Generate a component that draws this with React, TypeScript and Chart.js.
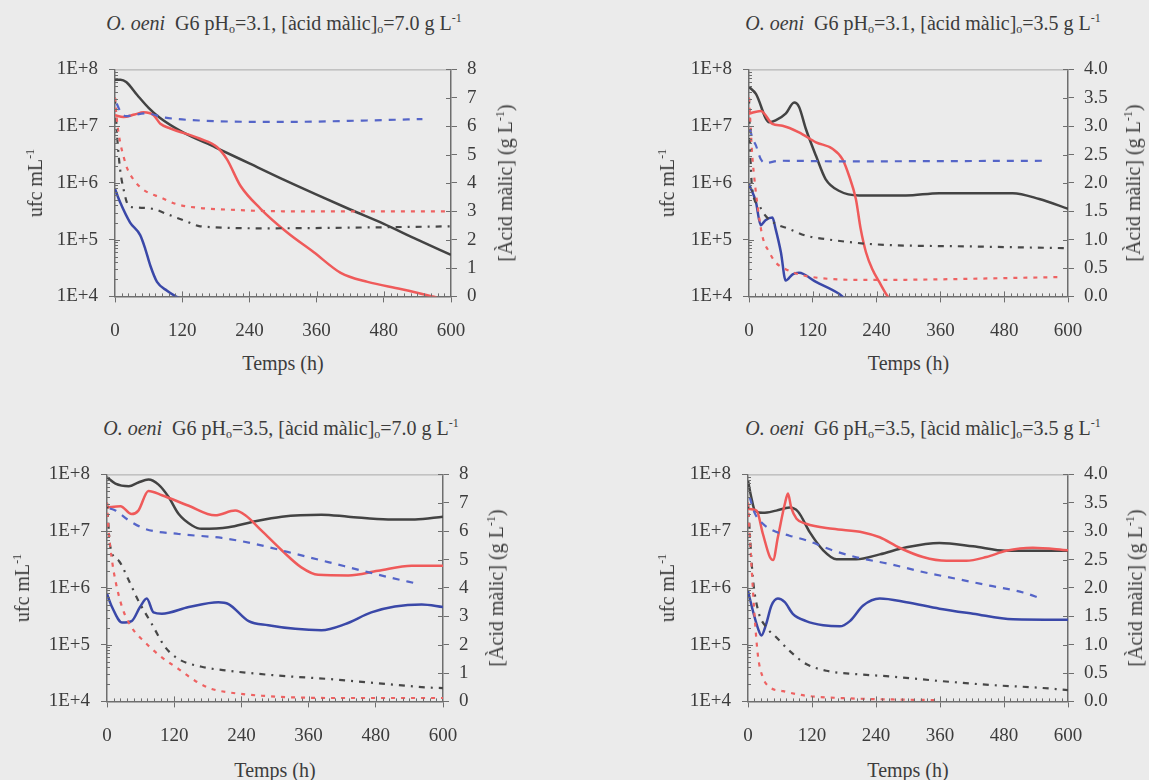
import React, { useEffect, useRef } from 'react';
import { Chart, registerables } from 'chart.js';

Chart.register(...registerables);

const FONT = '"Liberation Serif", "Times New Roman", serif';
const AXIS_COLOR = '#6e6e6e';
const TEXT_COLOR = '#3c3c3c';
const C_BLACK = '#434343';
const C_RED = '#ef5a5a';
const C_BLUE = '#3a48a8';
const C_BLUE_D = '#5565c8';
const C_RED_D = '#ee6262';
const C_BLACK_D = '#474747';

// shared axis ticks
const timeTicks = [0, 120, 240, 360, 480, 600];
const logTicks = [1e4, 1e5, 1e6, 1e7, 1e8];

// ---------- Panel 1: pH 3.1, malic 7.0 ----------
const p1BlackT = [0, 10, 20, 40, 60, 80, 120, 180, 240, 300, 360, 420, 480, 540, 600];
const p1BlackV = [6.6e7, 6.6e7, 6.0e7, 3.5e7, 2.1e7, 1.4e7, 7.9e6, 4.2e6, 2.2e6, 1.15e6, 6.2e5, 3.4e5, 1.9e5, 1.0e5, 5.4e4];
const p1RedT = [0, 15, 35, 51, 69, 81, 99, 152, 182, 200, 224, 260, 307, 355, 403, 451, 510, 558, 575];
const p1RedV = [1.55e7, 1.45e7, 1.6e7, 1.75e7, 1.55e7, 1.1e7, 9.1e6, 6.0e6, 4.3e6, 2.6e6, 8.9e5, 3.5e5, 1.35e5, 6.0e4, 2.6e4, 1.8e4, 1.35e4, 1.05e4, 9.5e3];
const p1BlueT = [0, 9, 27, 45, 54, 63, 75, 93, 107, 115];
const p1BlueV = [7.8e5, 4.6e5, 2.0e5, 1.2e5, 6.9e4, 3.5e4, 1.8e4, 1.26e4, 1.02e4, 9.3e3];
const p1BlueDT = [3, 10, 20, 35, 55, 90, 150, 300, 450, 549];
const p1BlueDV = [6.8, 6.5, 6.35, 6.4, 6.45, 6.3, 6.2, 6.15, 6.2, 6.25];
const p1RedDT = [0, 4, 9, 15, 22, 32, 45, 60, 80, 110, 150, 200, 300, 450, 600];
const p1RedDV = [7.0, 6.1, 5.45, 4.95, 4.5, 4.15, 3.85, 3.65, 3.5, 3.25, 3.12, 3.06, 3.0, 3.0, 3.0];
const p1BlackDT = [0, 4, 9, 15, 24, 33, 69, 93, 128, 152, 272, 450, 600];
const p1BlackDV = [7.0, 5.6, 4.5, 3.8, 3.2, 3.14, 3.08, 2.9, 2.64, 2.47, 2.4, 2.43, 2.47];

// ---------- Panel 2: pH 3.1, malic 3.5 ----------
const p2BlackT = [0, 13, 38, 50, 69, 85, 94, 107, 126, 144, 170, 207, 295, 358, 496, 546, 600];
const p2BlackV = [4.9e7, 3.7e7, 1.17e7, 1.26e7, 1.66e7, 2.6e7, 2.2e7, 8.9e6, 3.0e6, 1.17e6, 7.2e5, 6.0e5, 6.0e5, 6.6e5, 6.6e5, 5.2e5, 3.5e5];
const p2RedT = [0, 22, 44, 63, 94, 126, 157, 176, 188, 201, 210, 220, 232, 245, 261, 266];
const p2RedV = [1.66e7, 1.85e7, 1.1e7, 1.02e7, 7.8e6, 5.2e6, 4.0e6, 2.6e6, 1.35e6, 5.2e5, 1.55e5, 6.0e4, 3.0e4, 1.8e4, 1.0e4, 9.0e3];
const p2BlueT = [0, 13, 22, 31, 44, 50, 60, 69, 82, 94, 126, 170, 178];
const p2BlueV = [9.5e5, 4.6e5, 1.8e5, 2.2e5, 2.45e5, 1.55e5, 6.0e4, 1.9e4, 2.45e4, 2.6e4, 1.8e4, 1.1e4, 9.5e3];
const p2BlueDT = [2, 6, 13, 22, 31, 57, 170, 553];
const p2BlueDV = [2.95, 2.8, 2.66, 2.42, 2.35, 2.39, 2.38, 2.39];
const p2RedDT = [0, 3, 6, 11, 16, 25, 38, 50, 69, 119, 232, 584];
const p2RedDV = [3.5, 3.0, 2.5, 2.0, 1.6, 1.07, 0.78, 0.6, 0.48, 0.34, 0.29, 0.34];
const p2BlackDT = [0, 3, 6, 19, 31, 50, 75, 107, 144, 232, 421, 600];
const p2BlackDV = [3.5, 2.4, 1.89, 1.6, 1.42, 1.28, 1.19, 1.07, 1.01, 0.92, 0.88, 0.85];

// ---------- Panel 3: pH 3.5, malic 7.0 ----------
const p3BlackT = [0, 15, 39, 56, 74, 92, 110, 128, 152, 169, 217, 259, 312, 383, 431, 502, 550, 600];
const p3BlackV = [8.9e7, 6.9e7, 6.2e7, 7.2e7, 8.1e7, 6.6e7, 4.0e7, 2.0e7, 1.26e7, 1.1e7, 1.17e7, 1.45e7, 1.8e7, 1.95e7, 1.8e7, 1.6e7, 1.6e7, 1.8e7];
const p3RedT = [0, 24, 44, 56, 74, 98, 146, 193, 229, 247, 276, 312, 347, 377, 431, 484, 544, 600];
const p3RedV = [2.6e7, 2.75e7, 2.0e7, 2.3e7, 5.1e7, 4.3e7, 2.8e7, 1.9e7, 2.3e7, 1.9e7, 1.02e7, 4.6e6, 2.3e6, 1.7e6, 1.66e6, 2.0e6, 2.45e6, 2.45e6];
const p3BlueT = [0, 9, 27, 44, 59, 71, 83, 98, 146, 199, 217, 253, 288, 336, 383, 425, 472, 514, 562, 600];
const p3BlueV = [7.8e5, 4.6e5, 2.45e5, 2.6e5, 4.6e5, 6.5e5, 3.7e5, 3.5e5, 4.6e5, 5.6e5, 5.2e5, 2.6e5, 2.2e5, 1.9e5, 1.8e5, 2.3e5, 3.7e5, 4.7e5, 5.1e5, 4.6e5];
const p3BlueDT = [5, 15, 39, 68, 128, 205, 264, 324, 395, 455, 502, 556];
const p3BlueDV = [6.8, 6.73, 6.38, 6.08, 5.9, 5.76, 5.55, 5.26, 4.91, 4.61, 4.38, 4.14];
const p3RedDT = [0, 3, 9, 15, 27, 44, 68, 98, 128, 157, 187, 217, 276, 395, 600];
const p3RedDV = [7.0, 6.0, 4.96, 4.26, 3.32, 2.61, 2.08, 1.55, 1.14, 0.73, 0.44, 0.32, 0.2, 0.12, 0.12];
const p3BlackDT = [0, 6, 21, 39, 56, 80, 104, 128, 169, 217, 306, 395, 484, 573, 600];
const p3BlackDV = [7.0, 5.44, 4.96, 4.26, 3.55, 2.73, 1.91, 1.49, 1.22, 1.08, 0.91, 0.79, 0.64, 0.49, 0.47];

// ---------- Panel 4: pH 3.5, malic 3.5 ----------
const p4BlackT = [0, 6, 13, 28, 53, 78, 94, 116, 141, 166, 203, 247, 297, 359, 422, 484, 547, 600];
const p4BlackV = [7.8e7, 4.0e7, 2.3e7, 2.1e7, 2.3e7, 2.6e7, 2.2e7, 9.5e6, 4.6e6, 3.2e6, 3.2e6, 3.9e6, 5.2e6, 6.2e6, 5.4e6, 4.5e6, 4.5e6, 4.5e6];
const p4RedT = [0, 16, 28, 41, 47, 56, 69, 75, 81, 91, 109, 159, 216, 247, 284, 328, 372, 409, 447, 484, 534, 600];
const p4RedV = [2.45e7, 2.3e7, 8.9e6, 3.5e6, 3.1e6, 7.8e6, 3.0e7, 4.6e7, 2.6e7, 1.66e7, 1.35e7, 1.1e7, 9.5e6, 7.8e6, 5.1e6, 3.5e6, 3.0e6, 3.0e6, 3.5e6, 4.5e6, 5.1e6, 4.6e6];
const p4BlueT = [0, 9, 19, 25, 34, 44, 56, 69, 84, 109, 141, 172, 191, 216, 247, 297, 359, 422, 497, 600];
const p4BlueV = [8.9e5, 4.0e5, 1.9e5, 1.45e5, 2.3e5, 4.9e5, 6.5e5, 5.6e5, 3.5e5, 2.6e5, 2.2e5, 2.1e5, 2.6e5, 4.9e5, 6.5e5, 5.6e5, 4.3e5, 3.5e5, 2.8e5, 2.75e5];
const p4BlueDT = [3, 13, 28, 47, 78, 109, 159, 203, 266, 328, 391, 453, 516, 550];
const p4BlueDV = [3.6, 3.31, 3.13, 3.01, 2.92, 2.84, 2.66, 2.54, 2.42, 2.28, 2.16, 2.04, 1.92, 1.81];
const p4RedDT = [0, 6, 13, 19, 28, 41, 66, 109, 172, 359];
const p4RedDV = [3.5, 2.48, 1.42, 0.78, 0.42, 0.25, 0.18, 0.1, 0.06, 0.02];
const p4BlackDT = [0, 9, 19, 34, 53, 78, 109, 147, 203, 266, 359, 453, 547, 600];
const p4BlackDV = [3.5, 2.19, 1.6, 1.31, 1.13, 0.89, 0.66, 0.54, 0.48, 0.44, 0.36, 0.29, 0.24, 0.2];

type S = { t: number[]; v: number[]; color: string; dash?: number[]; axis: 'yL' | 'yR'; w: number };

const solid = (t: number[], v: number[], color: string): S => ({ t, v, color, axis: 'yL', w: 2.5 });
const dashed = (t: number[], v: number[], color: string, dash: number[]): S => ({ t, v, color, dash, axis: 'yR', w: 2.2 });

const DASH_BLUE = [7, 7];
const DASH_RED = [4, 6];
const DASH_BLACK = [6, 6, 2, 6];

type PanelCfg = {
  ph: string; mal: string;
  left: number; top: number; width: number; height: number;
  rMax: number; rStep: number; rDec: number;
  titleX: number; titleY: number; ufcX: number; rTitleX: number; xTitleY: number;
  series: S[];
};

const panels: PanelCfg[] = [
  {
    ph: '3.1', mal: '7.0', left: 115, top: 69, width: 336, height: 227, rMax: 8, rStep: 1, rDec: 0,
    titleX: 284, titleY: 23, ufcX: 35, rTitleX: 505, xTitleY: 363,
    series: [
      dashed(p1BlueDT, p1BlueDV, C_BLUE_D, DASH_BLUE),
      dashed(p1RedDT, p1RedDV, C_RED_D, DASH_RED),
      dashed(p1BlackDT, p1BlackDV, C_BLACK_D, DASH_BLACK),
      solid(p1BlueT, p1BlueV, C_BLUE),
      solid(p1RedT, p1RedV, C_RED),
      solid(p1BlackT, p1BlackV, C_BLACK),
    ],
  },
  {
    ph: '3.1', mal: '3.5', left: 749, top: 69, width: 319, height: 227, rMax: 4, rStep: 0.5, rDec: 1,
    titleX: 923, titleY: 23, ufcX: 667, rTitleX: 1133, xTitleY: 363,
    series: [
      dashed(p2BlueDT, p2BlueDV, C_BLUE_D, DASH_BLUE),
      dashed(p2RedDT, p2RedDV, C_RED_D, DASH_RED),
      dashed(p2BlackDT, p2BlackDV, C_BLACK_D, DASH_BLACK),
      solid(p2BlueT, p2BlueV, C_BLUE),
      solid(p2RedT, p2RedV, C_RED),
      solid(p2BlackT, p2BlackV, C_BLACK),
    ],
  },
  {
    ph: '3.5', mal: '7.0', left: 107, top: 474, width: 336, height: 227, rMax: 8, rStep: 1, rDec: 0,
    titleX: 281, titleY: 428, ufcX: 22, rTitleX: 496, xTitleY: 770,
    series: [
      dashed(p3BlueDT, p3BlueDV, C_BLUE_D, DASH_BLUE),
      dashed(p3RedDT, p3RedDV, C_RED_D, DASH_RED),
      dashed(p3BlackDT, p3BlackDV, C_BLACK_D, DASH_BLACK),
      solid(p3BlueT, p3BlueV, C_BLUE),
      solid(p3RedT, p3RedV, C_RED),
      solid(p3BlackT, p3BlackV, C_BLACK),
    ],
  },
  {
    ph: '3.5', mal: '3.5', left: 748, top: 474, width: 320, height: 227, rMax: 4, rStep: 0.5, rDec: 1,
    titleX: 923, titleY: 428, ufcX: 667, rTitleX: 1135, xTitleY: 770,
    series: [
      dashed(p4BlueDT, p4BlueDV, C_BLUE_D, DASH_BLUE),
      dashed(p4RedDT, p4RedDV, C_RED_D, DASH_RED),
      dashed(p4BlackDT, p4BlackDV, C_BLACK_D, DASH_BLACK),
      solid(p4BlueT, p4BlueV, C_BLUE),
      solid(p4RedT, p4RedV, C_RED),
      solid(p4BlackT, p4BlackV, C_BLACK),
    ],
  },
];

const LW = 90;
const RW = 60;
const PT = 4;
const BH = 50;
const TICK_FONT = { family: FONT, size: 19 };

const decorPlugin = {
  id: 'decor',
  afterDatasetsDraw(chart: any) {
    const { ctx, chartArea, scales } = chart;
    const { left, right, top, bottom } = chartArea;
    ctx.save();
    ctx.strokeStyle = '#a8a8a8';
    ctx.lineWidth = 1;
    ctx.beginPath();
    ctx.moveTo(left, top + 0.5);
    ctx.lineTo(right, top + 0.5);
    ctx.stroke();
    ctx.strokeStyle = AXIS_COLOR;
    ctx.lineWidth = 1;
    ctx.beginPath();
    for (let t = 12; t < 600; t += 12) {
      const px = Math.round(scales.x.getPixelForValue(t)) + 0.5;
      const len = t % 120 === 0 ? 5 : 3;
      ctx.moveTo(px, bottom);
      ctx.lineTo(px, bottom - len);
    }
    for (let e = 4; e < 8; e++) {
      for (let m = 1; m <= 9; m++) {
        const py = Math.round(scales.yL.getPixelForValue(m * Math.pow(10, e))) + 0.5;
        const len = m === 1 ? 5 : 3;
        ctx.moveTo(left, py);
        ctx.lineTo(left + len, py);
      }
    }
    const yr = scales.yR;
    for (const tk of yr.ticks) {
      const py = Math.round(yr.getPixelForValue(tk.value)) + 0.5;
      ctx.moveTo(right, py);
      ctx.lineTo(right - 5, py);
    }
    ctx.stroke();
    ctx.restore();
  },
};

function Panel({ cfg }: { cfg: PanelCfg }) {
  const ref = useRef<HTMLCanvasElement>(null);
  const cw = LW + cfg.width + RW;
  const ch = PT + cfg.height + BH;
  useEffect(() => {
    const canvas = ref.current!;
    const datasets = cfg.series.map((s) => ({
      data: s.t.map((t, i) => ({ x: t, y: s.v[i] })),
      yAxisID: s.axis,
      borderColor: s.color,
      borderWidth: s.w,
      borderDash: s.dash || [],
      pointRadius: 0,
      fill: false,
      cubicInterpolationMode: 'monotone' as const,
    }));
    const gridCfg = { display: true, drawOnChartArea: false, drawTicks: true, tickLength: 6, color: AXIS_COLOR };
    const chart = new Chart(canvas, {
      type: 'line',
      data: { datasets },
      plugins: [decorPlugin],
      options: {
        animation: false,
        responsive: false,
        maintainAspectRatio: false,
        layout: { padding: { top: PT, left: 0, right: 0, bottom: 0 } },
        plugins: { legend: { display: false }, tooltip: { enabled: false }, title: { display: false } },
        scales: {
          x: {
            type: 'linear', min: 0, max: 600,
            afterBuildTicks: (s: any) => { s.ticks = timeTicks.map((v) => ({ value: v })); },
            afterFit: (s: any) => { s.height = BH; },
            ticks: { font: TICK_FONT, color: TEXT_COLOR, padding: 17, maxRotation: 0, autoSkip: false },
            grid: gridCfg,
            border: { display: true, color: AXIS_COLOR, width: 1.5 },
          },
          yL: {
            type: 'logarithmic', position: 'left', min: 1e4, max: 1e8,
            afterBuildTicks: (s: any) => { s.ticks = logTicks.map((v) => ({ value: v })); },
            afterFit: (s: any) => { s.width = LW; },
            ticks: {
              font: TICK_FONT, color: TEXT_COLOR, padding: 11, autoSkip: false,
              callback: (v: any) => '1E+' + Math.round(Math.log10(Number(v))),
            },
            grid: gridCfg,
            border: { display: true, color: AXIS_COLOR, width: 1.5 },
          },
          yR: {
            type: 'linear', position: 'right', min: 0, max: cfg.rMax,
            afterFit: (s: any) => { s.width = RW; },
            ticks: {
              stepSize: cfg.rStep, font: TICK_FONT, color: TEXT_COLOR, padding: 10, autoSkip: false,
              callback: (v: any) => Number(v).toFixed(cfg.rDec),
            },
            grid: gridCfg,
            border: { display: true, color: AXIS_COLOR, width: 1.5 },
          },
        },
      } as any,
    });
    // adjust the canvas so that the plot area lands on the panel's box
    const ca = chart.chartArea;
    const dw = cfg.width - (ca.right - ca.left);
    const dh = cfg.height - (ca.bottom - ca.top);
    if (Math.abs(dw) > 0.5 || Math.abs(dh) > 0.5) {
      chart.resize(cw + dw, ch + dh);
    }
    const ca2 = chart.chartArea;
    canvas.style.left = cfg.left - ca2.left + 'px';
    canvas.style.top = cfg.top - ca2.top + 'px';
    return () => chart.destroy();
  }, [cfg]);

  const plotCx = cfg.left + cfg.width / 2;
  const plotCy = cfg.top + cfg.height / 2;
  const supStyle: React.CSSProperties = { fontSize: '0.6em', verticalAlign: '0.7em', lineHeight: 0 };
  const subStyle: React.CSSProperties = { fontSize: '0.6em', verticalAlign: '-0.25em', lineHeight: 0 };
  const textBase: React.CSSProperties = { position: 'absolute', fontFamily: FONT, color: TEXT_COLOR, whiteSpace: 'nowrap', lineHeight: 1 };

  return (
    <>
      <canvas
        ref={ref}
        width={cw}
        height={ch}
        style={{ position: 'absolute', left: cfg.left - LW, top: cfg.top - PT, width: cw, height: ch }}
      />
      <div style={{ ...textBase, left: cfg.titleX, top: cfg.titleY, transform: 'translate(-50%,-50%)', fontSize: 20 }}>
        <i>O. oeni</i>&nbsp; G6 pH<span style={subStyle}>o</span>={cfg.ph}, [àcid màlic]<span style={subStyle}>o</span>={cfg.mal} g L<span style={supStyle}>-1</span>
      </div>
      <div style={{ ...textBase, left: cfg.ufcX, top: plotCy, transform: 'translate(-50%,-50%) rotate(-90deg)', fontSize: 20 }}>
        ufc mL<span style={supStyle}>-1</span>
      </div>
      <div style={{ ...textBase, left: cfg.rTitleX, top: plotCy, transform: 'translate(-50%,-50%) rotate(-90deg)', fontSize: 20 }}>
        [Àcid màlic] (g L<span style={supStyle}>-1</span>)
      </div>
      <div style={{ ...textBase, left: plotCx, top: cfg.xTitleY, transform: 'translate(-50%,-50%)', fontSize: 20 }}>
        Temps (h)
      </div>
    </>
  );
}

export default function App() {
  return (
    <div style={{ position: 'absolute', left: 0, top: 0, width: 1149, height: 780, background: '#ebebeb', overflow: 'hidden' }}>
      {panels.map((p, i) => (
        <Panel key={i} cfg={p} />
      ))}
    </div>
  );
}
